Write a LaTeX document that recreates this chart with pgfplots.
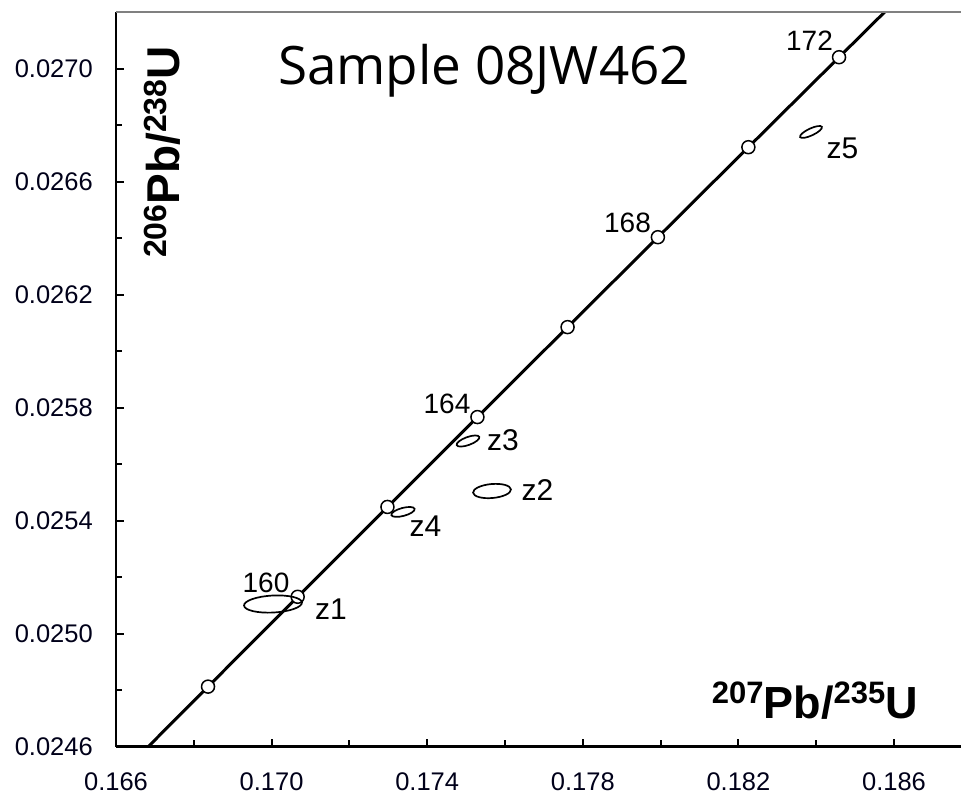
\documentclass[border=0pt]{standalone}
\usepackage{fontspec}
\setmainfont{Liberation Sans}
\newfontfamily\titlefont{Open Sans}
\usepackage{pgfplots}
\pgfplotsset{compat=1.18}
\begin{document}
\begin{tikzpicture}
\begin{axis}[
  name=ax,
  at={(0,0)}, anchor=south west,
  scale only axis, width=845pt, height=734.7pt,
  xmin=0.166, xmax=0.187722, ymin=0.0246, ymax=0.0272007,
  axis x line*=bottom, axis y line*=left,
  axis line style={line width=2.4pt, -},
  xtick={0.166,0.170,0.174,0.178,0.182,0.186},
  minor xtick={0.168,0.172,0.176,0.180,0.184},
  ytick={0.0246,0.0250,0.0254,0.0258,0.0262,0.0266,0.0270},
  minor ytick={0.0248,0.0252,0.0256,0.0260,0.0264,0.0268},
  tick align=inside,
  major tick length=8pt, minor tick length=6.5pt,
  every tick/.style={black, line width=2pt},
  scaled ticks=false,
  /pgf/number format/assume math mode=true,
  x tick label style={/pgf/number format/fixed, /pgf/number format/fixed zerofill, /pgf/number format/precision=3, anchor=north, yshift=-26pt},
  y tick label style={/pgf/number format/fixed, /pgf/number format/fixed zerofill, /pgf/number format/precision=4, anchor=east, xshift=-23pt},
  tick label style={font=\fontsize{25.5}{30}\selectfont, inner sep=0pt, text=black!90!blue},
]
% concordia curve (ages 156-174 Ma, 2 Ma steps)
\addplot[line width=3pt, smooth, black] coordinates {
(0.166067,0.0244947) (0.168366,0.0248126) (0.170670,0.0251306) (0.172978,0.0254487)
(0.175291,0.0257668) (0.177608,0.0260852) (0.179930,0.0264035) (0.182256,0.0267221)
(0.184587,0.0270406) (0.186923,0.0273593)};
% age markers
\addplot[only marks, mark=*, mark size=6.5pt, mark options={fill=white, draw=black, line width=1.5pt}] coordinates {
(0.168366,0.0248126) (0.170670,0.0251306) (0.172978,0.0254487) (0.175291,0.0257668)
(0.177608,0.0260852) (0.179930,0.0264035) (0.182256,0.0267221) (0.184587,0.0270406)};
% error ellipses
\addplot[only marks, mark=o, mark size=1pt, mark options={line width=1.7pt, rotate=3, xscale=29, yscale=8.5}] coordinates {(0.170036,0.025105)};
\addplot[only marks, mark=o, mark size=1pt, mark options={line width=1.7pt, rotate=15, xscale=12, yscale=4}] coordinates {(0.173378,0.025431)};
\addplot[only marks, mark=o, mark size=1pt, mark options={line width=1.7pt, rotate=20, xscale=12, yscale=4}] coordinates {(0.175049,0.025682)};
\addplot[only marks, mark=o, mark size=1pt, mark options={line width=1.7pt, rotate=5, xscale=19, yscale=7}] coordinates {(0.175666,0.025505)};
\addplot[only marks, mark=o, mark size=1pt, mark options={line width=1.7pt, rotate=25, xscale=12, yscale=3.5}] coordinates {(0.183866,0.026776)};
% age labels
\node[font=\fontsize{28}{30}\selectfont] at (axis cs:0.183828,0.027098) {172};
\node[font=\fontsize{28}{30}\selectfont] at (axis cs:0.179149,0.026456) {168};
\node[font=\fontsize{28}{30}\selectfont] at (axis cs:0.174509,0.025815) {164};
\node[font=\fontsize{28}{30}\selectfont] at (axis cs:0.169856,0.025181) {160};
% spot labels
\node[font=\fontsize{30}{34}\selectfont] at (axis cs:0.171527,0.025086) {z1};
\node[font=\fontsize{30}{34}\selectfont] at (axis cs:0.176835,0.025507) {z2};
\node[font=\fontsize{30}{34}\selectfont] at (axis cs:0.175949,0.025684) {z3};
\node[font=\fontsize{30}{34}\selectfont] at (axis cs:0.173956,0.025381) {z4};
\node[font=\fontsize{30}{34}\selectfont] at (axis cs:0.184676,0.026718) {z5};
% title
\node[anchor=base, font=\titlefont\fontsize{53}{60}\selectfont] at (rel axis cs:0.4355,0.9007) {Sample 08JW462};
% axis labels
\node[anchor=base, rotate=90, inner sep=0pt, font=\bfseries] at (rel axis cs:0.0757,0.8094)
  {\raisebox{13pt}{\fontsize{32}{32}\selectfont 206}\fontsize{46}{50}\selectfont Pb/\raisebox{13pt}{\fontsize{32}{32}\selectfont 238}\fontsize{46}{50}\selectfont U};
\node[anchor=base, inner sep=0pt, font=\bfseries] at (rel axis cs:0.827,0.039)
  {\raisebox{15pt}{\fontsize{31}{31}\selectfont 207}\fontsize{45}{50}\selectfont Pb/\raisebox{15pt}{\fontsize{31}{31}\selectfont 235}\fontsize{45}{50}\selectfont U};
\end{axis}
\draw[gray, line width=2pt] (0,734.7pt) -- (845pt,734.7pt);
\pgfresetboundingbox
\useasboundingbox (-116pt,-52.3pt) rectangle (845pt,746.7pt);
\end{tikzpicture}
\end{document}
